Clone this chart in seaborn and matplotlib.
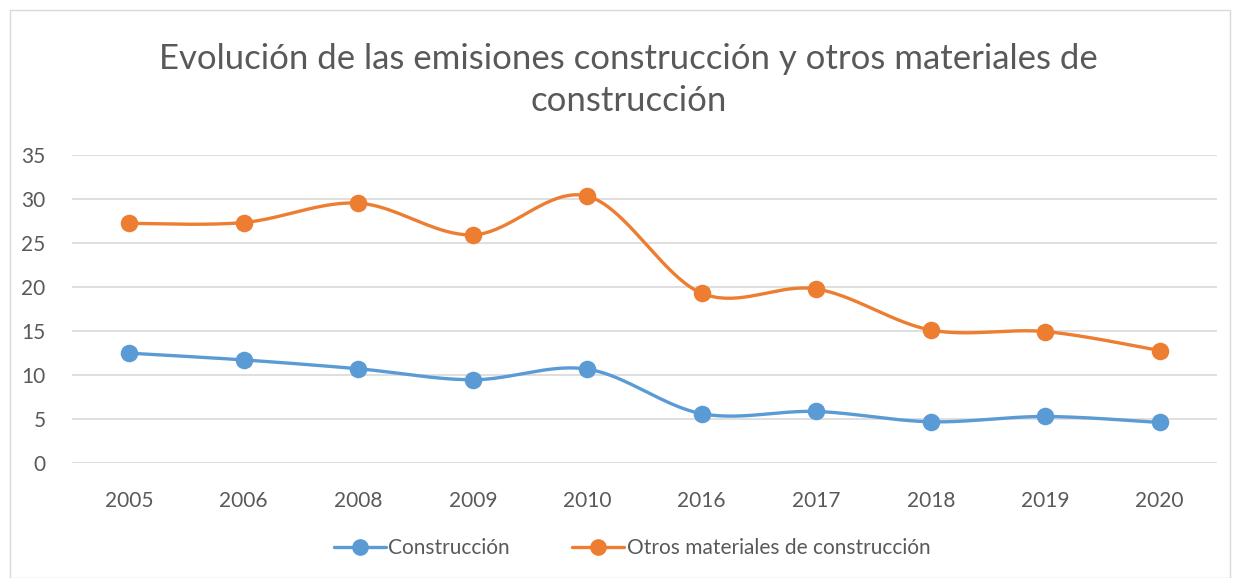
import numpy as np
import pandas as pd
import matplotlib
matplotlib.use("Agg")
import matplotlib.pyplot as plt
import seaborn as sns
from matplotlib.lines import Line2D
from matplotlib.patches import Rectangle

years = ["2005", "2006", "2008", "2009", "2010", "2016", "2017", "2018", "2019", "2020"]
construccion = [12.47, 11.7, 10.7, 9.45, 10.66, 5.6, 5.85, 4.68, 5.28, 4.6]
otros = [27.2, 27.3, 29.5, 25.9, 30.3, 19.27, 19.76, 15.1, 14.92, 12.77]
series_names = ["Construcción", "Otros materiales de construcción"]
colors = ["#5B9BD5", "#ED7D31"]
title = "Evolución de las emisiones construcción y otros materiales de\nconstrucción"

sns.set_theme(style="white")
plt.rcParams["font.family"] = ["Lato", "DejaVu Sans"]

def smooth(xv, yv, n=40):
    pts = np.column_stack([xv, yv]).astype(float)
    ext = np.vstack([pts[0], pts, pts[-1]])
    out = []
    for i in range(len(pts) - 1):
        p0, p1, p2, p3 = ext[i], ext[i + 1], ext[i + 2], ext[i + 3]
        c1 = p1 + (p2 - p0) / 6.0
        c2 = p2 - (p3 - p1) / 6.0
        t = np.linspace(0, 1, n)[:, None]
        seg = ((1 - t) ** 3) * p1 + 3 * ((1 - t) ** 2) * t * c1 + 3 * (1 - t) * t ** 2 * c2 + t ** 3 * p2
        out.append(seg if i == 0 else seg[1:])
    return np.vstack(out)

fig = plt.figure(figsize=(12.37, 5.78), dpi=100)
ax = fig.add_axes([72 / 1237, (578 - 463) / 578, (1217 - 72) / 1237, (463 - 154.7) / 578])

xpos = np.arange(len(years))
for vals, name, col in zip([construccion, otros], series_names, colors):
    curve = smooth(xpos, vals)
    df = pd.DataFrame({"x": curve[:, 0], "y": curve[:, 1]})
    sns.lineplot(data=df, x="x", y="y", sort=False, estimator=None, color=col, linewidth=2.4, ax=ax)
    sns.scatterplot(x=xpos, y=vals, color=col, s=160, edgecolor=col, linewidth=0, ax=ax, zorder=5)

ax.set_xlim(-0.5, len(years) - 0.5)
ax.set_ylim(0, 35)
ax.set_yticks(np.arange(0, 36, 5))
ax.set_xticks(xpos)
ax.set_xticklabels(years)
ax.set_xlabel("")
ax.set_ylabel("")
ax.grid(axis="y", color="#D9D9D9", linewidth=1.2)
ax.set_axisbelow(True)
for s in ax.spines.values():
    s.set_visible(False)
ax.tick_params(axis="both", length=0, labelsize=15, labelcolor="#595959")
ax.tick_params(axis="x", pad=20)
ax.tick_params(axis="y", pad=19)

fig.text(0.508, 0.862, title, ha="center", va="center", fontsize=25, color="#595959",
         fontweight="normal", linespacing=1.4)

handles = [Line2D([0], [0], color=c, linewidth=2.4, marker="o", markersize=11) for c in colors]
fig.legend(handles, series_names, loc="center", bbox_to_anchor=(0.511, 0.052), ncol=2, frameon=False,
           fontsize=15, labelcolor="#595959", handlelength=2.5, columnspacing=3.0, handletextpad=0.1)

fig.patches.append(Rectangle((10 / 1237, 0), 1220 / 1237, 568 / 578, transform=fig.transFigure,
                             fill=False, edgecolor="#D9D9D9", linewidth=1))

fig.savefig("out.png", dpi=100)
